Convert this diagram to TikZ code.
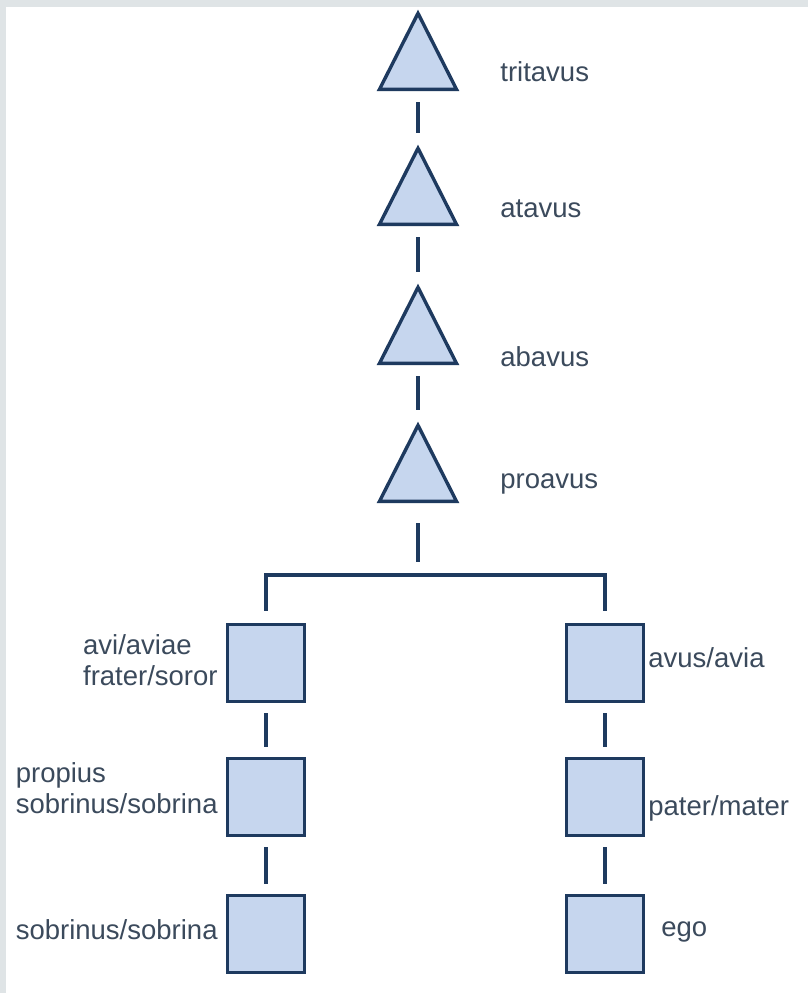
\documentclass[tikz,border=0pt]{standalone}
\usepackage{fontspec}
\setmainfont{Liberation Sans}
\usepackage{xcolor}
\usepackage{tikz}
\usetikzlibrary{calc, shapes.geometric, positioning}

\definecolor{kinfill}{HTML}{C6D6EE}
\definecolor{kinline}{HTML}{1E3A5F}
\definecolor{kintext}{HTML}{3B4A5C}
\definecolor{frame}{HTML}{DFE4E6}

\begin{document}
\begin{tikzpicture}[x=0.5pt, y=-0.5pt,
    male/.style={draw=kinline, fill=kinfill, line width=1.7pt,
        isosceles triangle, isosceles triangle stretches, shape border rotate=90,
        minimum width=38.5pt, minimum height=38pt, inner sep=0pt, anchor=lower side},
    person/.style={draw=kinline, fill=kinfill, line width=1.7pt,
        rectangle, minimum size=38.5pt, inner sep=0pt},
    link/.style={draw=kinline, line width=1.7pt},
    kin/.style={text=kintext, inner sep=0pt, align=left,
        font=\fontsize{13.75}{15.4}\selectfont}]
    % Rahmen
    \fill[frame] (0,0) rectangle (808,993);
    \fill[white] (6,7) rectangle (808,993);
    \useasboundingbox (0,0) rectangle (808,993);

    % Ahnenreihe (Dreiecke)
    \node[male] (tritavus) at (418,91) {};
    \node[male] (atavus) at (418,226) {};
    \node[male] (abavus) at (418,365) {};
    \node[male] (proavus) at (418,503) {};
    \node[kin, anchor=west] (tritavus-txt) at (500,72) {tritavus};
    \node[kin, anchor=west] (atavus-txt) at (500,209) {atavus};
    \node[kin, anchor=west] (abavus-txt) at (500,357) {abavus};
    \node[kin, anchor=west] (proavus-txt) at (500,484) {proavus};

    % Zwei Linien (Quadrate)
    \node[person] (aviae) at (266,663) {};
    \node[person] (propius) at (266,797) {};
    \node[person] (sobrinus) at (266,934) {};
    \node[person] (avus) at (605,663) {};
    \node[person] (pater) at (605,797) {};
    \node[person] (ego) at (605,934) {};
    \node[kin, anchor=east] (aviae-txt) at (218,660) {avi/aviae\\frater/soror};
    \node[kin, anchor=east] (propius-txt) at (218,788) {propius\\sobrinus/sobrina};
    \node[kin, anchor=east] (sobrinus-txt) at (218,930) {sobrinus/sobrina};
    \node[kin, anchor=west] (avus-txt) at (648,658) {avus/avia};
    \node[kin, anchor=west] (pater-txt) at (648,808) {pater/mater};
    \node[kin, anchor=west] (ego-txt) at (661,932) {ego};

    % Verbindungen
    \draw[link, shorten <=5.5pt, shorten >=5.5pt] (tritavus.lower side) -- (atavus.apex);
    \draw[link, shorten <=5.5pt, shorten >=5.5pt] (atavus.lower side) -- (abavus.apex);
    \draw[link, shorten <=5.5pt, shorten >=5.5pt] (abavus.lower side) -- (proavus.apex);
    \coordinate (bar) at (418,575);
    \draw[link, shorten <=10pt, shorten >=6.5pt] (proavus.lower side) -- (bar);
    \draw[link] ($(aviae.north)+(0,-12)$) |- (bar) -| ($(avus.north)+(0,-12)$);
    \draw[link, shorten <=5pt, shorten >=5pt] (aviae) -- (propius);
    \draw[link, shorten <=5pt, shorten >=5pt] (propius) -- (sobrinus);
    \draw[link, shorten <=5pt, shorten >=5pt] (avus) -- (pater);
    \draw[link, shorten <=5pt, shorten >=5pt] (pater) -- (ego);
\end{tikzpicture}
\end{document}
